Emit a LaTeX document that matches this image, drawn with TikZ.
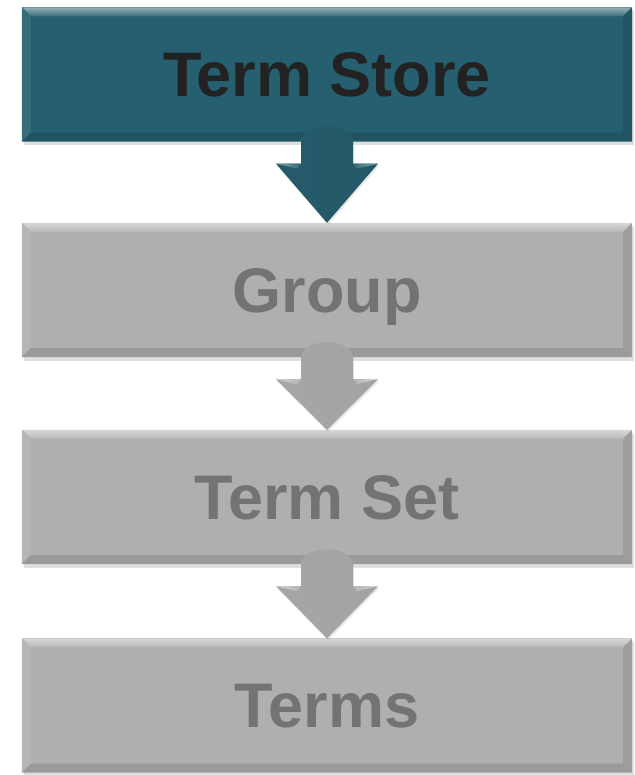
\documentclass[tikz,border=0pt]{standalone}
\usepackage{fontspec}
\setmainfont{Liberation Sans}
\usepackage{tikz}
\usetikzlibrary{calc,shadows}
\definecolor{storeteal}{HTML}{265F6F}
\definecolor{levelgray}{HTML}{AFAFAF}
\definecolor{storetext}{HTML}{222222}
\definecolor{leveltext}{HTML}{737373}

\begin{document}
\begin{tikzpicture}[x=1pt,y=1pt,
  level/.style={rectangle,minimum width=610pt,minimum height=134pt,inner sep=0pt,
    text height=45pt,text depth=0pt,font=\fontsize{63}{70}\selectfont\bfseries,
    drop shadow={opacity=0.25,shadow xshift=1.5pt,shadow yshift=-4pt}}]
  \useasboundingbox (0,0) rectangle (634,775);
  % the four levels
  \node[level,fill=storeteal,text=storetext] (store) at (327,700.5) {Term Store};
  \node[level,fill=levelgray,text=leveltext] (group) at (327,485) {Group};
  \node[level,fill=levelgray,text=leveltext] (termset) at (327,278) {Term Set};
  \node[level,fill=levelgray,text=leveltext] (terms) at (327,69.5) {Terms};
  % bevelled edges
  \foreach \n/\c in {store/storeteal,group/levelgray,termset/levelgray,terms/levelgray}{
    \shade[top color=\c!50!white,bottom color=\c!90!white] (\n.north west) -- (\n.north east)
      -- ($(\n.north east)+(-9,-9)$) -- ($(\n.north west)+(9,-9)$) -- cycle;
    \fill[\c!92!white] (\n.north west) -- ($(\n.north west)+(9,-9)$)
      -- ($(\n.south west)+(9,9)$) -- (\n.south west) -- cycle;
    \fill[\c!90!black] (\n.north east) -- ($(\n.north east)+(-9,-9)$)
      -- ($(\n.south east)+(-9,9)$) -- (\n.south east) -- cycle;
    \fill[\c!88!black] (\n.south west) -- ($(\n.south west)+(9,9)$)
      -- ($(\n.south east)+(-9,9)$) -- (\n.south east) -- cycle;
  }
  % arrows from level to level
  \foreach \a/\b/\c in {store/group/storeteal,group/termset/levelgray,termset/terms/levelgray}{
    \shade[left color=\c!95!black,middle color=\c!92!white,right color=\c!93!black,
      drop shadow={opacity=0.2,shadow xshift=1pt,shadow yshift=-2pt}]
      ($(\a.south)+(-26,0)$) -- ($(\a.south)+(-26,-22)$) -- ($(\a.south)+(-51,-22)$)
      -- (\b.north) -- ($(\a.south)+(51,-22)$) -- ($(\a.south)+(26,-22)$)
      -- ($(\a.south)+(26,0)$) arc[start angle=0,end angle=180,x radius=26,y radius=15] -- cycle;
    \shade[left color=\c!55!white,right color=\c!95!white] ($(\a.south)+(-51,-22)$)
      -- ($(\a.south)+(-26,-22)$) -- ($(\a.south)+(-30,-27)$) -- cycle;
    \shade[left color=\c!95!white,right color=\c!55!white] ($(\a.south)+(51,-22)$)
      -- ($(\a.south)+(26,-22)$) -- ($(\a.south)+(30,-27)$) -- cycle;
  }
\end{tikzpicture}
\end{document}
